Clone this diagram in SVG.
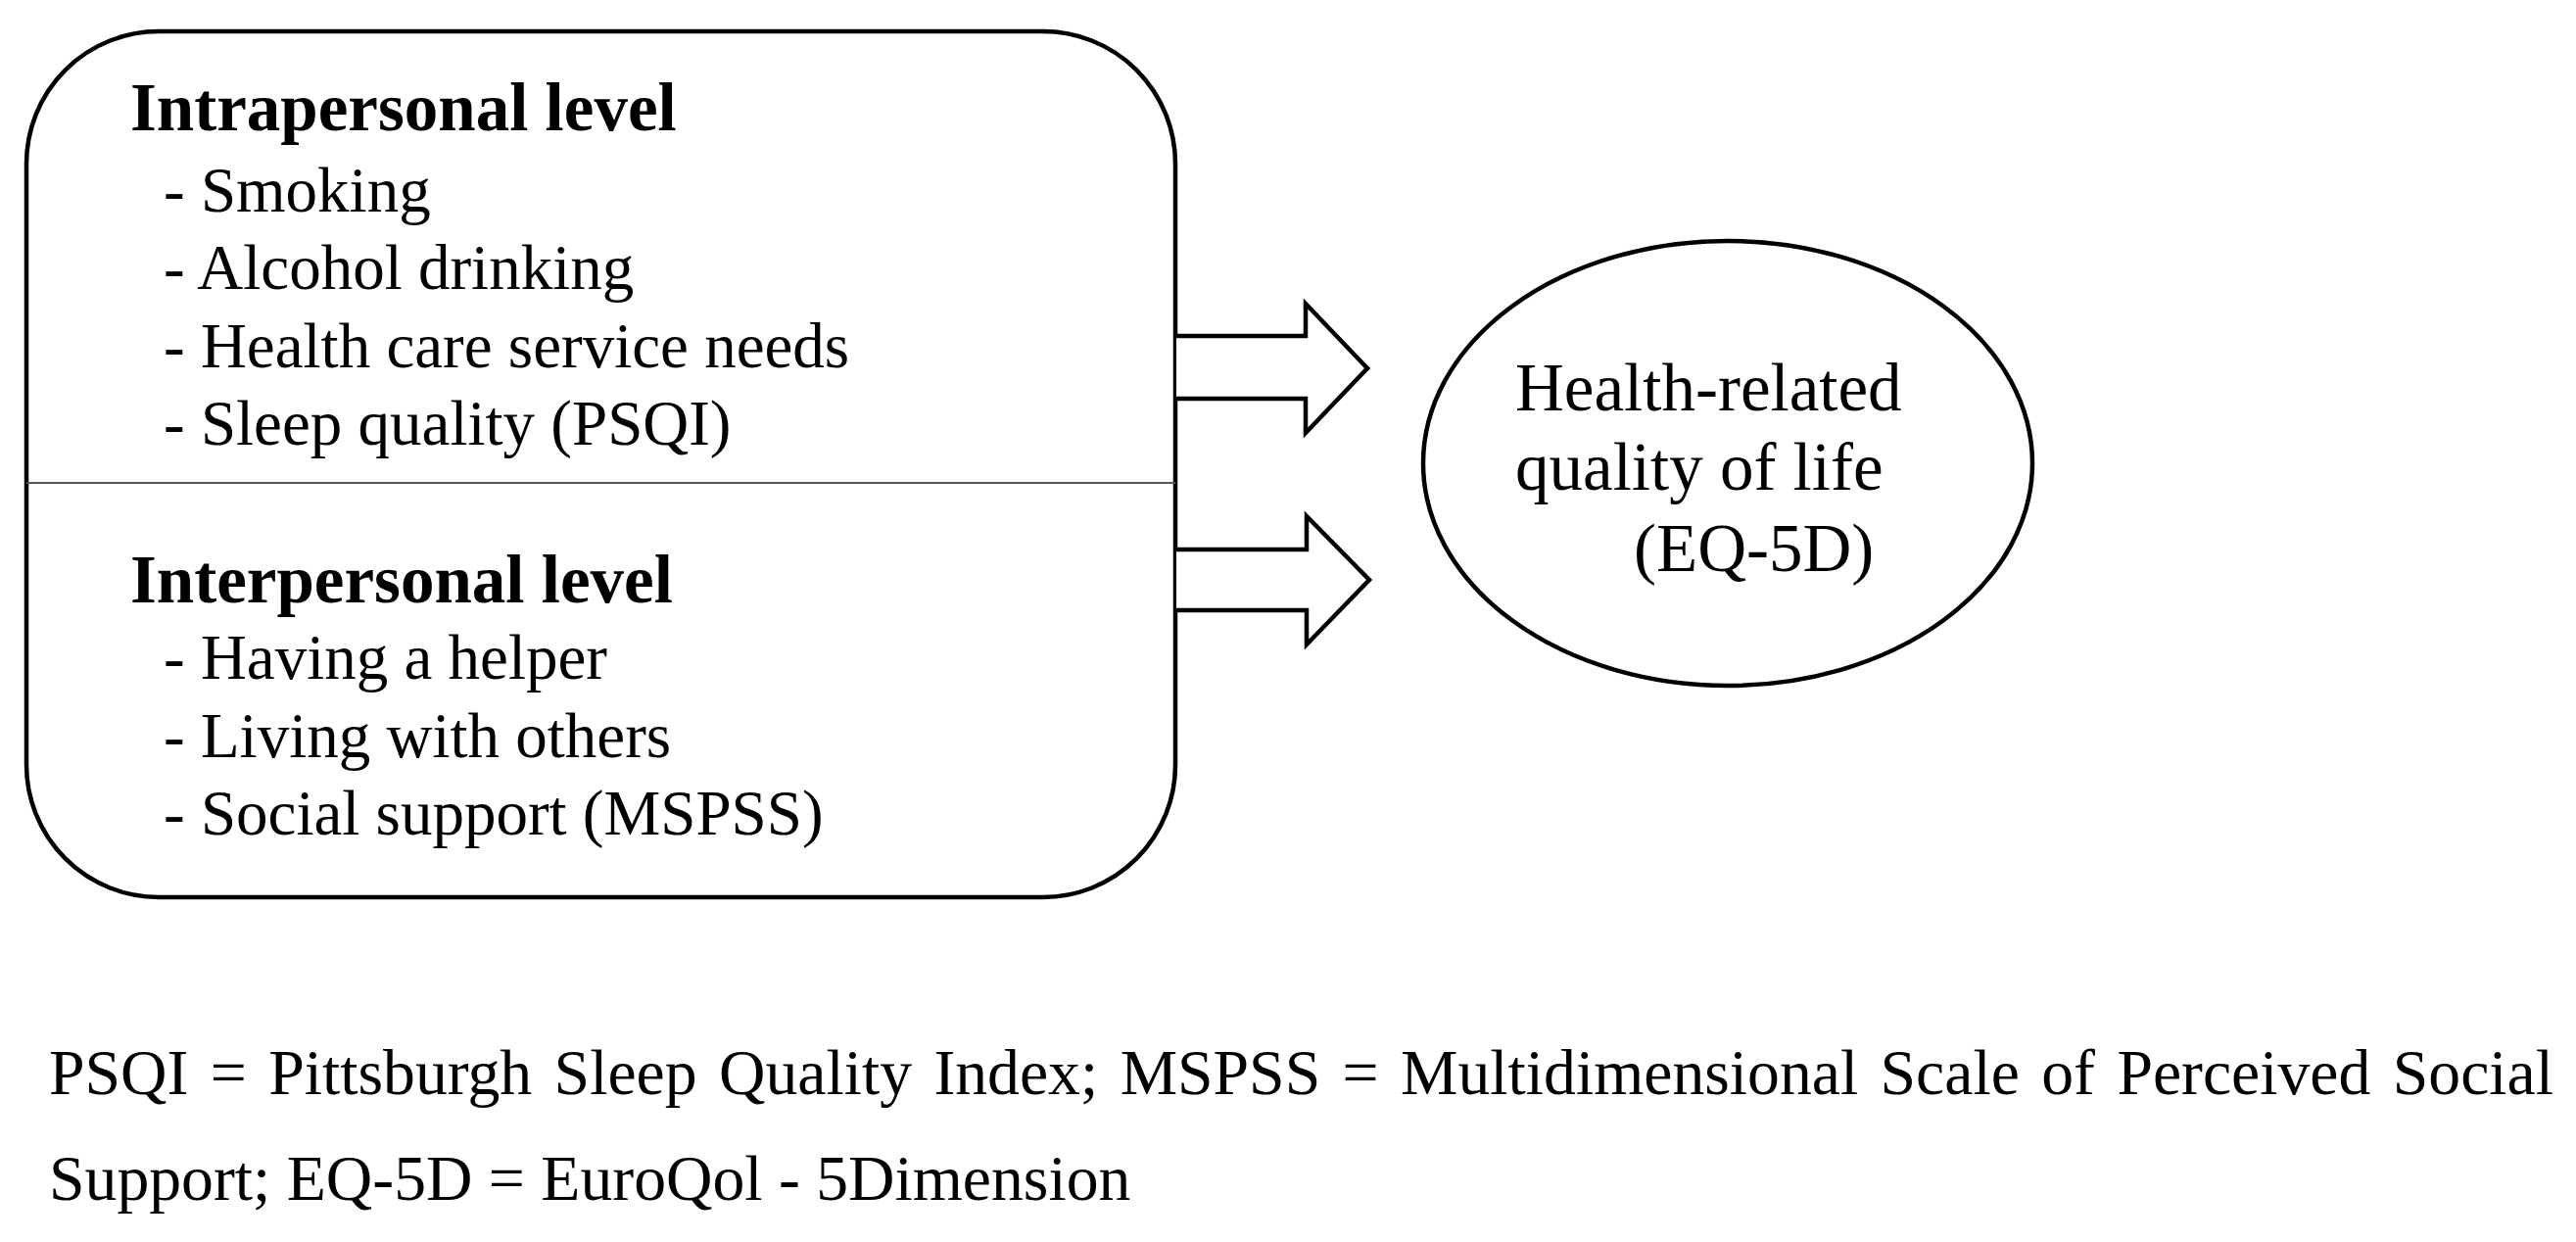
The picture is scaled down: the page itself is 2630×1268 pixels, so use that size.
<svg xmlns="http://www.w3.org/2000/svg" width="2630" height="1268" viewBox="0 0 2630 1268">
<style>
.t{font-family:"Liberation Serif","Times New Roman",serif;fill:#000}
.h{font-size:69px;font-weight:bold}
.i{font-size:65px}
.e{font-size:69px}
.f{font-size:65.7px}
.ln{fill:#fff;stroke:#000;stroke-width:4.5}
.arr{fill:#fff;stroke:#000;stroke-width:4.5;stroke-linejoin:miter}
</style>
<rect width="2630" height="1268" fill="#fff"/>
<g id="factors">
<rect class="ln" x="27" y="32" width="1173" height="884" rx="135" ry="135"/>
<line x1="27" y1="493" x2="1200" y2="493" stroke="#555" stroke-width="2"/>
<text class="t h" x="133" y="133">Intrapersonal level</text>
<text class="t i" x="167" y="216">- Smoking</text>
<text class="t i" x="167" y="295">- Alcohol drinking</text>
<text class="t i" x="167" y="375">- Health care service needs</text>
<text class="t i" x="167" y="454">- Sleep quality (PSQI)</text>
<text class="t h" x="133" y="615">Interpersonal level</text>
<text class="t i" x="167" y="693">- Having a helper</text>
<text class="t i" x="167" y="773">- Living with others</text>
<text class="t i" x="167" y="852">- Social support (MSPSS)</text>
</g>
<g id="connectors">
<path class="arr" d="M1201,343 H1333 V310 L1396,376 L1333,442 V407 H1201"/>
<path class="arr" d="M1201,561 H1334 V527 L1398,592 L1334,658 V623 H1201"/>
</g>
<g id="hrqol">
<ellipse class="ln" cx="1764" cy="473" rx="311" ry="227"/>
<text class="t e" x="1547" y="419">Health-related</text>
<text class="t e" x="1547" y="500">quality of life</text>
<text class="t e" x="1668" y="583">(EQ-5D)</text>
</g>
<g id="note">
<text class="t f" x="50" y="1117" word-spacing="6">PSQI = Pittsburgh Sleep Quality Index; MSPSS = Multidimensional Scale of Perceived Social</text>
<text class="t f" x="50" y="1225">Support; EQ-5D = EuroQol - 5Dimension</text>
</g>
</svg>
